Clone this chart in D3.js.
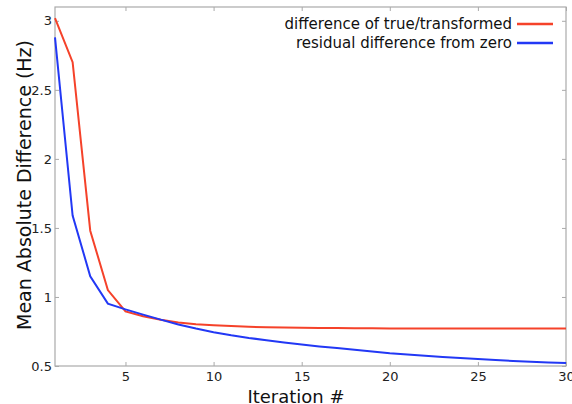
<!DOCTYPE html>
<html>
<head>
<meta charset="utf-8">
<script src="https://cdn.jsdelivr.net/npm/d3@7"></script>
<style>
  body { margin: 0; background: #fff; }
  text { font-family: "DejaVu Sans", sans-serif; }
</style>
</head>
<body>
<div id="chart"></div>
<script>
// values
var iterations = d3.range(1, 31);
var trueTransformed = [3.02, 2.70, 1.48, 1.05, 0.895, 0.86, 0.835, 0.815, 0.803, 0.795,
  0.789, 0.784, 0.781, 0.779, 0.777, 0.776, 0.775, 0.774, 0.773, 0.772,
  0.772, 0.771, 0.771, 0.771, 0.771, 0.771, 0.771, 0.771, 0.771, 0.771];
var residual = [2.88, 1.59, 1.15, 0.952, 0.91, 0.872, 0.836, 0.80, 0.771, 0.745,
  0.722, 0.703, 0.687, 0.671, 0.656, 0.642, 0.63, 0.617, 0.605, 0.593,
  0.584, 0.575, 0.566, 0.558, 0.550, 0.543, 0.537, 0.531, 0.526, 0.521];
var seriesNames = ['difference of true/transformed', 'residual difference from zero'];
var xTicks = [5, 10, 15, 20, 25, 30];
var yTicks = [0.5, 1, 1.5, 2, 2.5, 3];

var width = 572, height = 404;
var margin = {left: 55, right: 6, top: 7, bottom: 38};
var colors = ['#f5422a', '#2238f5'];

var svg = d3.select('#chart').append('svg')
  .attr('width', width)
  .attr('height', height);

var x = d3.scaleLinear().domain([1, 30]).range([margin.left, width - margin.right]);
var y = d3.scaleLinear().domain([0.5, 3.1]).range([height - margin.bottom, margin.top]);

// frame
svg.append('rect')
  .attr('x', x(1)).attr('y', y(3.1))
  .attr('width', x(30) - x(1)).attr('height', y(0.5) - y(3.1))
  .attr('fill', 'none').attr('stroke', '#aaa').attr('stroke-width', 1.2);

// inward ticks on all four sides
var fmt = function(d) { return String(d); };
svg.append('g')
  .attr('transform', 'translate(0,' + y(0.5) + ')')
  .call(d3.axisBottom(x).tickValues(xTicks).tickSizeInner(-4).tickSizeOuter(0).tickPadding(6).tickFormat(fmt));
svg.append('g')
  .attr('transform', 'translate(0,' + y(3.1) + ')')
  .call(d3.axisTop(x).tickValues(xTicks).tickSizeInner(-4).tickSizeOuter(0).tickFormat(''));
svg.append('g')
  .attr('transform', 'translate(' + x(1) + ',0)')
  .call(d3.axisLeft(y).tickValues(yTicks).tickSizeInner(-4).tickSizeOuter(0).tickPadding(3).tickFormat(fmt));
svg.append('g')
  .attr('transform', 'translate(' + x(30) + ',0)')
  .call(d3.axisRight(y).tickValues(yTicks).tickSizeInner(-4).tickSizeOuter(0).tickFormat(''));

svg.selectAll('.domain').remove();
svg.selectAll('.tick line').attr('stroke', '#aaa');
svg.selectAll('.tick text').attr('font-size', 13).attr('fill', '#222')
  .style('font-family', '"DejaVu Sans", sans-serif');

// lines
var line = d3.line()
  .x(function(d, i) { return x(iterations[i]); })
  .y(function(d) { return y(d); });

[trueTransformed, residual].forEach(function(s, k) {
  svg.append('path')
    .datum(s)
    .attr('d', line)
    .attr('fill', 'none')
    .attr('stroke', colors[k])
    .attr('stroke-width', 2);
});

// legend
var legend = svg.append('g');
seriesNames.forEach(function(name, k) {
  var ly = 24 + k * 19;
  legend.append('text')
    .attr('x', 512).attr('y', ly + 5)
    .attr('text-anchor', 'end')
    .attr('font-size', 15)
    .attr('fill', '#111')
    .text(name);
  legend.append('line')
    .attr('x1', 517).attr('x2', 553)
    .attr('y1', ly).attr('y2', ly)
    .attr('stroke', colors[k]).attr('stroke-width', 2.5);
});

// axis titles
svg.append('text')
  .attr('x', 296).attr('y', 403)
  .attr('text-anchor', 'middle')
  .attr('font-size', 18)
  .attr('fill', '#111')
  .text('Iteration #');

svg.append('text')
  .attr('transform', 'translate(31,185) rotate(-90)')
  .attr('text-anchor', 'middle')
  .attr('font-size', 19)
  .attr('fill', '#111')
  .text('Mean Absolute Difference (Hz)');
</script>
</body>
</html>
